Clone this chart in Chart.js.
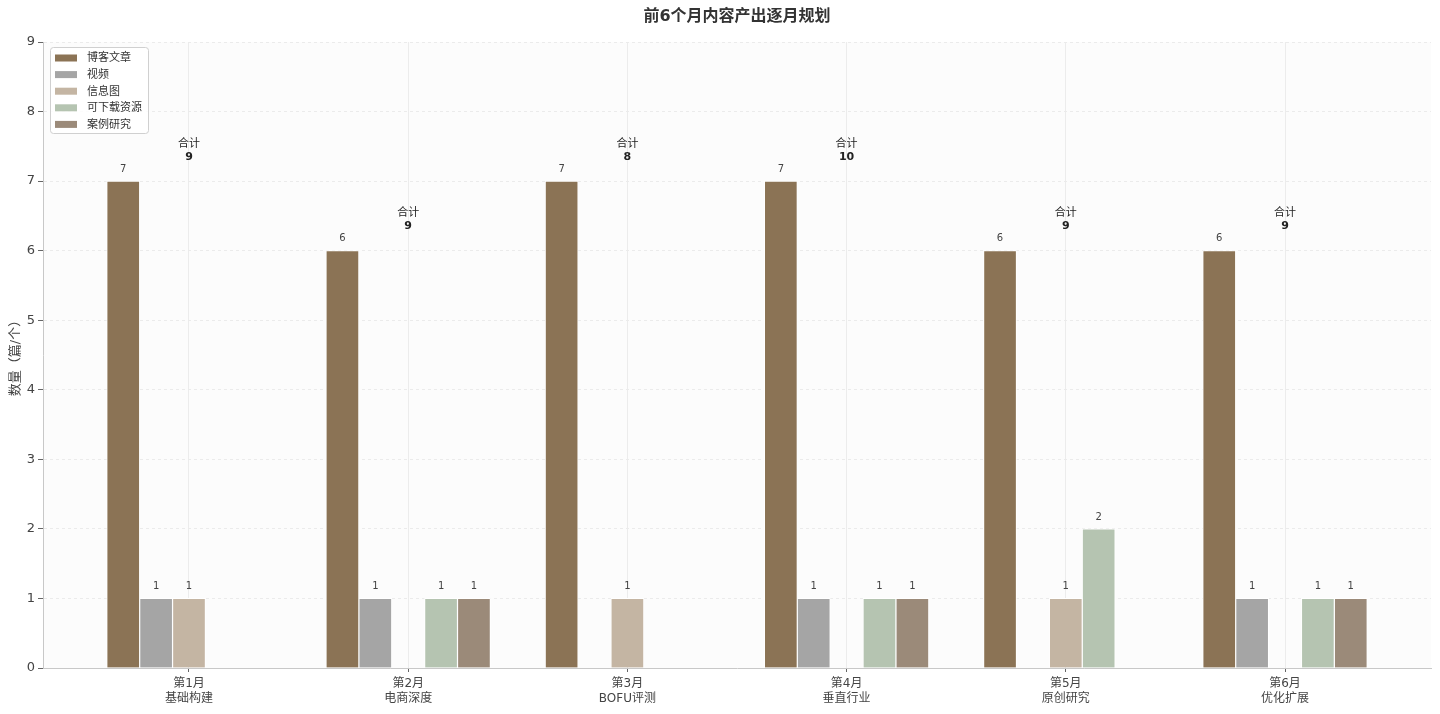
<!DOCTYPE html>
<html>
<head>
<meta charset="utf-8">
<script src="https://cdn.jsdelivr.net/npm/chart.js@4.4.1/dist/chart.umd.min.js"></script>
<style>
  body { margin: 0; background: #fff; }
  #wrap { width: 1440px; height: 714px; }
</style>
</head>
<body>
<div id="wrap"><canvas id="planChart" width="1440" height="714"></canvas></div>
<script>
// data
const months = ["第1月", "第2月", "第3月", "第4月", "第5月", "第6月"];
const themes = ["基础构建", "电商深度", "BOFU评测", "垂直行业", "原创研究", "优化扩展"];
const seriesNames = ["博客文章", "视频", "信息图", "可下载资源", "案例研究"];
const blogPosts = [7, 6, 7, 7, 6, 6];
const videos = [1, 1, 0, 1, 0, 1];
const infographics = [1, 0, 1, 0, 1, 0];
const downloads = [0, 1, 0, 1, 2, 1];
const caseStudies = [0, 1, 0, 1, 0, 1];
const yTicks = [0, 1, 2, 3, 4, 5, 6, 7, 8, 9];

const colors = ["#8b7355", "#a5a5a5", "#c4b5a3", "#b5c4b1", "#9b8a79"];
const allSeries = [blogPosts, videos, infographics, downloads, caseStudies];
const barStep = 0.15;
const FONT = "'DejaVu Sans', 'Noto Sans CJK SC', sans-serif";

const datasets = allSeries.map((vals, k) => ({
    label: seriesNames[k],
    data: vals.map((v, i) => ({ x: i + (k - 2) * barStep, y: v })),
    backgroundColor: colors[k],
    borderColor: "#ffffff",
    borderWidth: 1,
    barThickness: 33,
    grouped: false
}));

// background of plot area
const plotBg = {
    id: "plotBg",
    beforeDraw(chart) {
        const { ctx, chartArea: a } = chart;
        ctx.save();
        ctx.fillStyle = "#fcfcfc";
        ctx.fillRect(a.left, a.top, a.right - a.left, a.bottom - a.top);
        ctx.restore();
    }
};

// value labels, totals, title and legend
const extras = {
    id: "extras",
    afterDatasetsDraw(chart) {
        const ctx = chart.ctx;
        const xs = chart.scales.x, ys = chart.scales.y;
        ctx.save();
        ctx.textAlign = "center";
        ctx.textBaseline = "bottom";
        ctx.fillStyle = "#444";
        ctx.font = "10px " + FONT;
        chart.data.datasets.forEach((ds, k) => {
            chart.getDatasetMeta(k).data.forEach((bar, i) => {
                const v = allSeries[k][i];
                if (v > 0) ctx.fillText(String(v), bar.x, ys.getPixelForValue(v + 0.1));
            });
        });

        // totals
        months.forEach((m, i) => {
            let total = 0, max = 0;
            allSeries.forEach(s => { total += s[i]; max = Math.max(max, s[i]); });
            const x = xs.getPixelForValue(i);
            const y = ys.getPixelForValue(max + 0.3) + 2;
            ctx.fillStyle = "#222";
            ctx.font = "bold 11px " + FONT;
            ctx.fillText(String(total), x, y);
            ctx.font = "11px " + FONT;
            ctx.fillText("合计", x, y - 13);
        });
        ctx.restore();
    },
    afterDraw(chart) {
        const ctx = chart.ctx;
        const a = chart.chartArea;
        ctx.save();
        // title
        ctx.fillStyle = "#333";
        ctx.font = "bold 16px " + FONT;
        ctx.textAlign = "center";
        ctx.textBaseline = "middle";
        ctx.fillText("前6个月内容产出逐月规划", (a.left + a.right) / 2, 17);

        // legend
        const lx = a.left + 7, ly = a.top + 5, lw = 98, lh = 86;
        ctx.fillStyle = "rgba(255,255,255,0.85)";
        ctx.strokeStyle = "#d0d0d0";
        ctx.lineWidth = 1;
        ctx.beginPath();
        ctx.roundRect(lx + 0.5, ly + 0.5, lw, lh, 3);
        ctx.fill();
        ctx.stroke();
        ctx.textAlign = "left";
        ctx.font = "11px " + FONT;
        chart.data.datasets.forEach((ds, k) => {
            const cy = ly + 11 + k * 16.6;
            ctx.fillStyle = ds.backgroundColor;
            ctx.fillRect(lx + 5, cy - 3.5, 22, 7);
            ctx.fillStyle = "#333";
            ctx.fillText(ds.label, lx + 37, cy + 0.5);
        });
        ctx.restore();
    }
};

new Chart(document.getElementById("planChart"), {
    type: "bar",
    data: { datasets: datasets },
    plugins: [plotBg, extras],
    options: {
        responsive: false,
        animation: false,
        layout: { padding: { top: 42, right: 9, left: 0, bottom: 0 } },
        plugins: {
            legend: { display: false },
            tooltip: { enabled: false },
            title: { display: false }
        },
        scales: {
            x: {
                type: "linear",
                offset: false,
                min: -0.666,
                max: 5.666,
                afterBuildTicks(scale) {
                    scale.ticks = months.map((m, i) => ({ value: i }));
                },
                afterFit(scale) { scale.height = 46; },
                ticks: {
                    autoSkip: false,
                    maxRotation: 0,
                    padding: 5,
                    color: "#444",
                    font: { family: FONT, size: 12 },
                    callback: (v) => [months[v], themes[v]]
                },
                grid: {
                    offset: false,
                    color: "#ececec",
                    tickColor: "#666",
                    tickLength: 4
                },
                border: { color: "#c8c8c8", width: 1 }
            },
            y: {
                min: 0,
                max: 9,
                afterBuildTicks(scale) {
                    scale.ticks = yTicks.map(v => ({ value: v }));
                },
                afterFit(scale) { scale.width = 43; },
                ticks: {
                    padding: 3,
                    color: "#444",
                    font: { family: FONT, size: 13 }
                },
                grid: {
                    color: "#ebebeb",
                    tickColor: "#666",
                    tickLength: 5
                },
                border: { color: "#c8c8c8", width: 1, dash: [3, 3] },
                title: {
                    display: true,
                    text: "数量（篇/个）",
                    color: "#444",
                    font: { family: FONT, size: 13 },
                    padding: { top: 8, bottom: 0 }
                }
            }
        }
    }
});
</script>
</body>
</html>
